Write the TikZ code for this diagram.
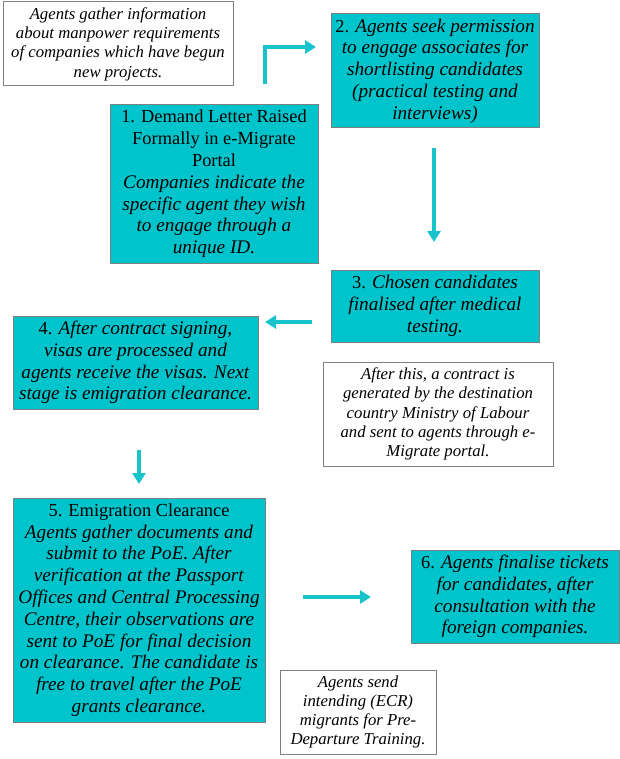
\documentclass[tikz,border=0pt]{standalone}
\usepackage{fontspec}
\setmainfont{Liberation Serif}[ItalicFeatures={Scale=1.045}]
\usetikzlibrary{arrows.meta}
\definecolor{tealf}{HTML}{00C4CC}
\definecolor{tealarrow}{HTML}{18C3CC}
\definecolor{edgegray}{HTML}{7F7F7F}
\tikzset{
  basebox/.style={draw=edgegray, line width=1pt, align=center, inner sep=0pt, anchor=center},
  tealbox/.style={basebox, fill=tealf, font={\fontsize{18.4}{21.8}\selectfont}},
  notebox/.style={basebox, fill=white, font={\fontsize{16}{19.3}\selectfont\itshape}},
  arr/.style={draw=tealarrow, line width=4pt, -{Triangle[width=13pt,length=11pt]}}
}
\begin{document}
\begin{tikzpicture}[x=1pt,y=-1pt]
\useasboundingbox (0,0) rectangle (620,759);
\node[notebox, minimum width=230pt, minimum height=84pt] (na) at (118,44)
  {Agents gather information\\about manpower requirements\\of companies which have begun\\new projects.};
\node[tealbox, minimum width=208pt, minimum height=158pt] (b1) at (214,184)
  {1. Demand Letter Raised\\Formally in e-Migrate\\Portal\\\textit{Companies indicate the}\\\textit{specific agent they wish}\\\textit{to engage through a}\\\textit{unique ID.}};
\node[tealbox, minimum width=208pt, minimum height=114pt] (b2) at (435,71)
  {2. \textit{Agents seek permission}\\\textit{to engage associates for}\\\textit{shortlisting candidates}\\\textit{(practical testing and}\\\textit{interviews)}};
\node[tealbox, minimum width=208pt, minimum height=72pt] (b3) at (435,306)
  {3. \textit{Chosen candidates}\\\textit{finalised after medical}\\\textit{testing.}};
\node[tealbox, minimum width=245pt, minimum height=93pt] (b4) at (135.5,362.5)
  {4. \textit{After contract signing,}\\\textit{visas are processed and}\\\textit{agents receive the visas. Next}\\\textit{stage is emigration clearance.}};
\node[notebox, minimum width=230pt, minimum height=104pt] (nb) at (438,414)
  {After this, a contract is\\generated by the destination\\country Ministry of Labour\\and sent to agents through e-\\Migrate portal.};
\node[tealbox, minimum width=252pt, minimum height=224pt] (b5) at (139,610)
  {5. Emigration Clearance\\\textit{Agents gather documents and}\\\textit{submit to the PoE. After}\\\textit{verification at the Passport}\\\textit{Offices and Central Processing}\\\textit{Centre, their observations are}\\\textit{sent to PoE for final decision}\\\textit{on clearance. The candidate is}\\\textit{free to travel after the PoE}\\\textit{grants clearance.}};
\node[tealbox, minimum width=208pt, minimum height=93pt] (b6) at (515,596.5)
  {6. \textit{Agents finalise tickets}\\\textit{for candidates, after}\\\textit{consultation with the}\\\textit{foreign companies.}};
\node[notebox, minimum width=156pt, minimum height=84pt] (nc) at (358,712)
  {Agents send\\intending (ECR)\\migrants for Pre-\\Departure Training.};
% connectors
\coordinate (e1s) at (265,84);
\coordinate (e1e) at (316,47);
\draw[arr] (e1s) |- (e1e);
\coordinate (a2s) at (434,148);
\coordinate (a2e) at (434,242);
\draw[arr] (a2s) -- (a2e);
\coordinate (a3s) at (312,322);
\coordinate (a3e) at (265,322);
\draw[arr] (a3s) -- (a3e);
\coordinate (a4s) at (139,450);
\coordinate (a4e) at (139,484);
\draw[arr] (a4s) -- (a4e);
\coordinate (a5s) at (303,597);
\coordinate (a5e) at (371,597);
\draw[arr] (a5s) -- (a5e);
\end{tikzpicture}
\end{document}
